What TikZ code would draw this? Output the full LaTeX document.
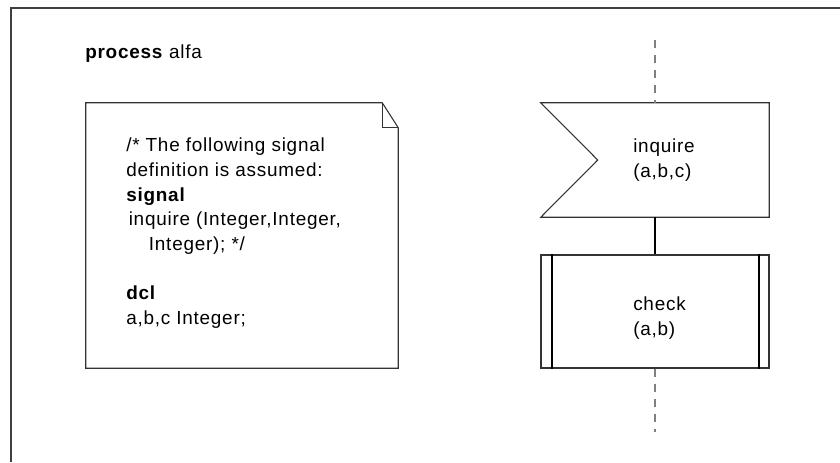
\documentclass[tikz,border=0pt]{standalone}
\usepackage{fontspec}
\setmainfont{Liberation Sans}
\usetikzlibrary{positioning,calc}

\begin{document}
\begin{tikzpicture}[x=0.75pt,y=-0.75pt,
    every node/.style={font=\fontsize{14.2}{18.5}\selectfont\addfontfeature{LetterSpace=4}},
    sdlshape/.style={minimum width=228*0.75pt, minimum height=114*0.75pt, inner sep=0pt},
    sdlline/.style={draw=black!80, line width=0.8pt},
    sdltext/.style={anchor=west, align=left, inner sep=0pt},
    lifeline/.style={draw=gray, line width=0.8pt, dash pattern=on 6pt off 5.25pt}]
    \useasboundingbox (0,0) rectangle (840,462);

    % Frame
    \draw[black!75, line width=1.2pt] (11,462) -- (11,8) -- (840,8);
    \node[anchor=base west, inner sep=0pt] (title) at (85,58) {\textbf{process} alfa};

    % Text symbol with folded corner
    \node[minimum width=312*0.75pt, minimum height=265*0.75pt, inner sep=0pt] (decl) at (242,235.5) {};
    \draw[sdlline] (decl.south west) -- (decl.north west) -- ($(decl.north east)+(-16,0)$)
        -- ($(decl.north east)+(0,25)$) -- (decl.south east) -- cycle;
    \draw[sdlline] ($(decl.north east)+(-16,0)$) -- ($(decl.north east)+(-16,25)$) -- ($(decl.north east)+(0,25)$);
    \node[anchor=base west, align=left, inner sep=0pt] (decltext) at (126,324.5)
        {/* The following signal\\
         definition is assumed:\\
         \textbf{signal}\\
         \hspace*{1.9pt}inquire (Integer,Integer,\\
         \hspace*{17pt}Integer); */\\[18.5pt]
         \textbf{dcl}\\
         a,b,c Integer;};

    % Input symbol
    \node[sdlshape] (inquire) at (655,160) {};
    \draw[sdlline] (inquire.north west) -- (inquire.north east) -- (inquire.south east)
        -- (inquire.south west) -- ($(inquire.west)+(57,0)$) -- cycle;
    \node[sdltext] (inquiretext) at (633,160) {inquire\\(a,b,c)};

    % Procedure call
    \node[sdlshape, sdlline, minimum height=113*0.75pt] (check) at (655,311.5) {};
    \draw[black, line width=1.5pt] ($(check.north west)+(12,0)$) -- ($(check.south west)+(12,0)$);
    \draw[black, line width=1.5pt] ($(check.north east)+(-11,0)$) -- ($(check.south east)+(-11,0)$);
    \node[sdltext] (checktext) at (633,318) {check\\(a,b)};

    % Lifeline
    \coordinate (lifetop) at (655,40);
    \coordinate (lifebot) at (655,432);
    \draw[lifeline] (lifetop) -- (inquire.north);
    \draw[black, line width=1.2pt] (inquire.south) -- (check.north);
    \draw[lifeline] (check.south) -- (lifebot);
\end{tikzpicture}
\end{document}
